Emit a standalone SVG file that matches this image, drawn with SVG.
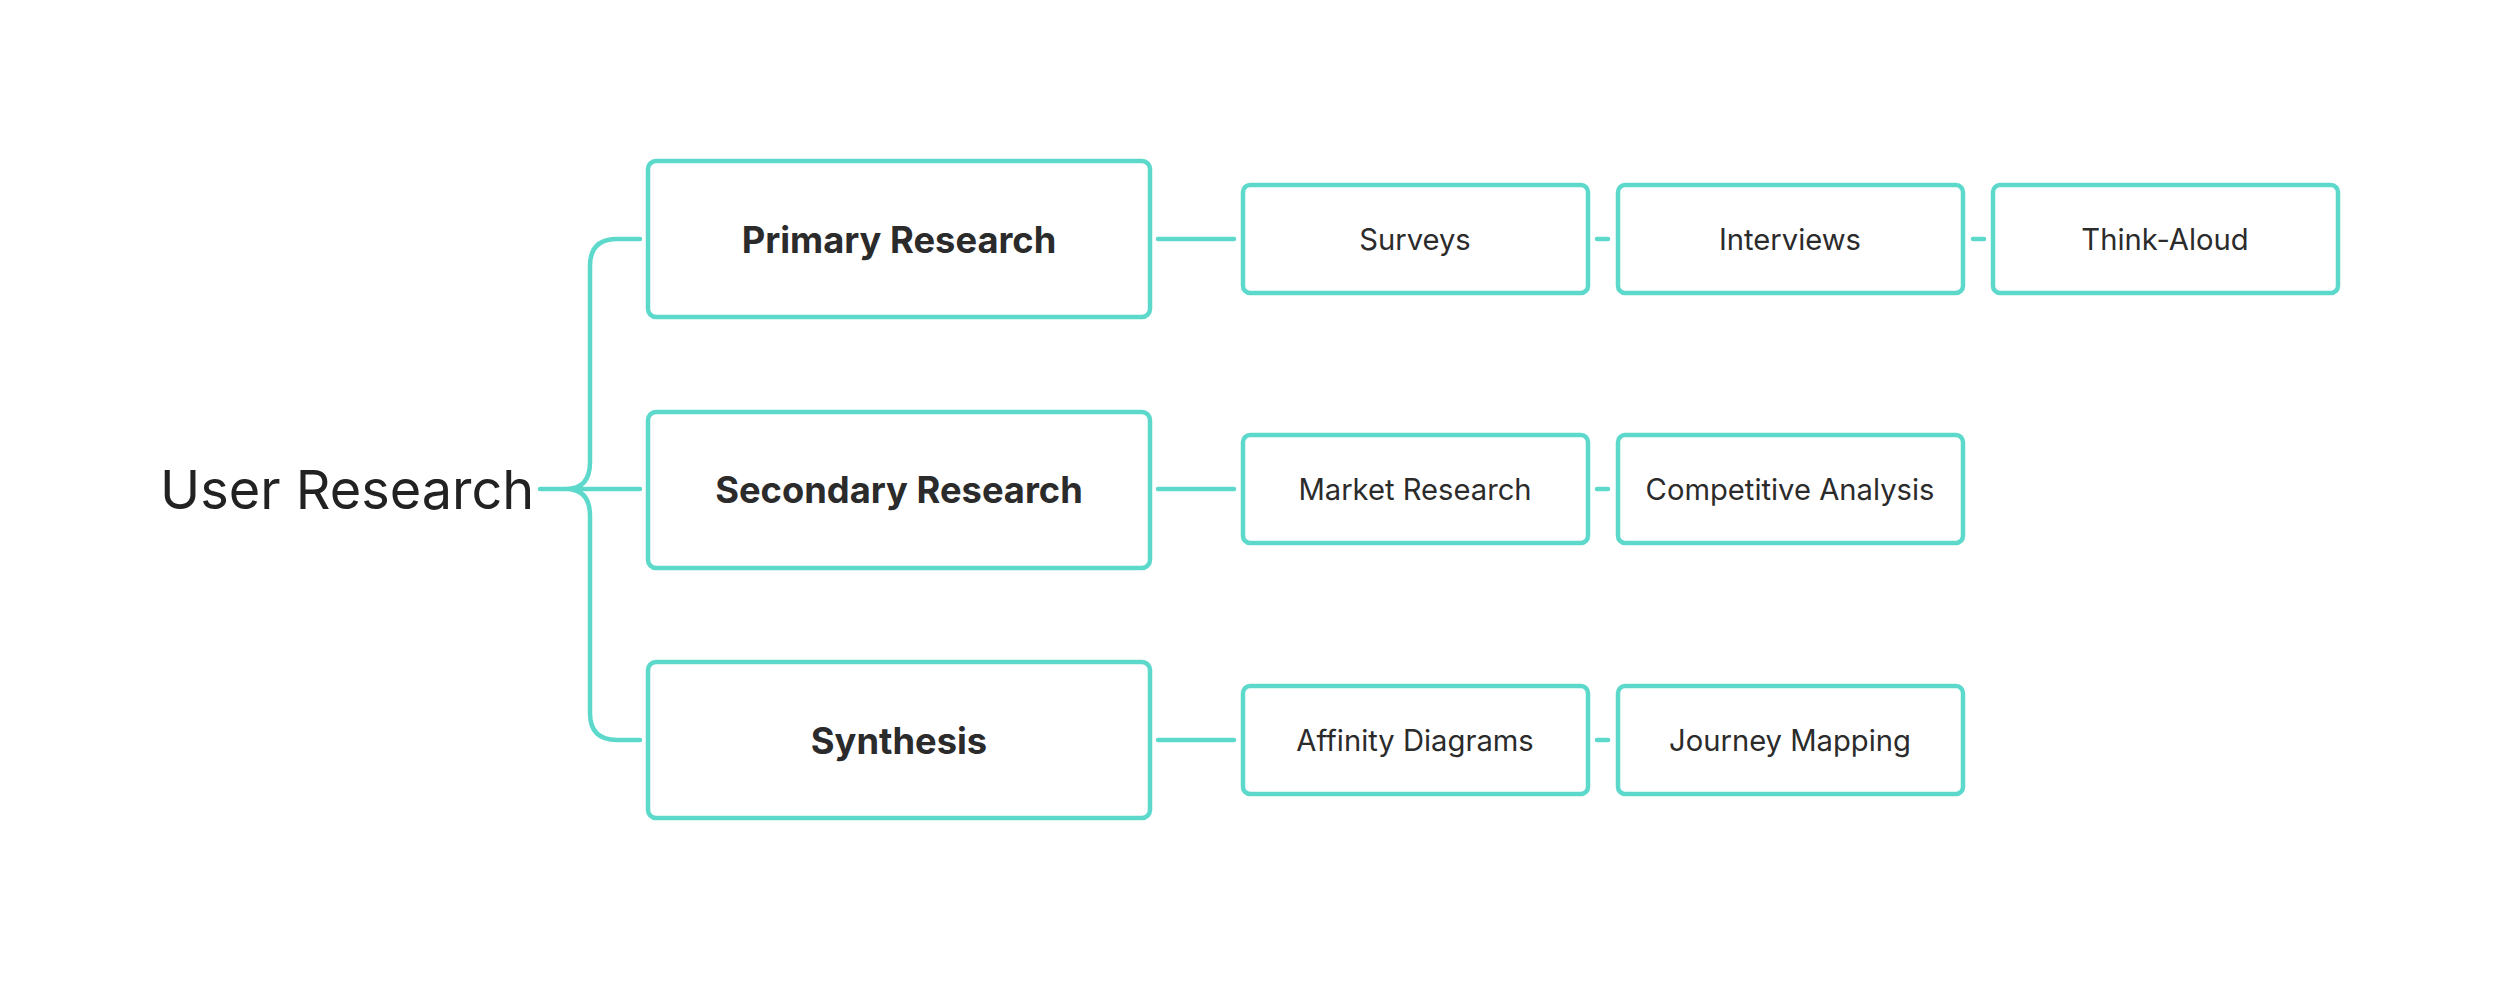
<svg xmlns="http://www.w3.org/2000/svg" width="2500" height="981" viewBox="0 0 2500 981">
<style>
.box{fill:#fff;stroke:#5dd9cc;stroke-width:4.5}
.ln{fill:none;stroke:#5dd9cc;stroke-width:4.5;stroke-linecap:round;stroke-linejoin:round}
.t1{font-family:Inter,"Liberation Sans",sans-serif;font-weight:700;font-size:36.3px;fill:#2b2b2b;text-anchor:middle;dominant-baseline:central}
.t2{font-family:Inter,"Liberation Sans",sans-serif;font-weight:400;font-size:29.2px;fill:#2b2b2b;text-anchor:middle;dominant-baseline:central}
.root{font-family:Inter,"Liberation Sans",sans-serif;font-weight:400;font-size:54px;fill:#222;dominant-baseline:central}
</style>
<rect width="2500" height="981" fill="#fff"/>
<g id="connectors">
<path class="ln" d="M540 489 H640 M640 239 H617 Q590 239 590 266 V462 Q590 489 566 489 Q590 489 590 516 V713 Q590 740 617 740 H640"/>
<path class="ln" d="M1158 239 H1234 M1158 489 H1234 M1158 740 H1234"/>
<path class="ln" d="M1597 239 H1608 M1973 239 H1984 M1597 489 H1608 M1597 740 H1608"/>
</g>
<g id="root"><text class="root" x="160" y="489">User Research</text></g>
<g id="primary"><rect class="box" x="648" y="161" width="502" height="156" rx="8"/><text class="t1" x="899" y="240">Primary Research</text></g>
<g id="secondary"><rect class="box" x="648" y="412" width="502" height="156" rx="8"/><text class="t1" x="899" y="490">Secondary Research</text></g>
<g id="synthesis"><rect class="box" x="648" y="662" width="502" height="156" rx="8"/><text class="t1" x="899" y="741">Synthesis</text></g>
<g id="surveys"><rect class="box" x="1243" y="185" width="345" height="108" rx="7"/><text class="t2" x="1415" y="239">Surveys</text></g>
<g id="interviews"><rect class="box" x="1618" y="185" width="345" height="108" rx="7"/><text class="t2" x="1790" y="239">Interviews</text></g>
<g id="think-aloud"><rect class="box" x="1993" y="185" width="345" height="108" rx="7"/><text class="t2" x="2165" y="239">Think-Aloud</text></g>
<g id="market"><rect class="box" x="1243" y="435" width="345" height="108" rx="7"/><text class="t2" x="1415" y="489">Market Research</text></g>
<g id="competitive"><rect class="box" x="1618" y="435" width="345" height="108" rx="7"/><text class="t2" x="1790" y="489">Competitive Analysis</text></g>
<g id="affinity"><rect class="box" x="1243" y="686" width="345" height="108" rx="7"/><text class="t2" x="1415" y="740">Affinity Diagrams</text></g>
<g id="journey"><rect class="box" x="1618" y="686" width="345" height="108" rx="7"/><text class="t2" x="1790" y="740">Journey Mapping</text></g>
</svg>
